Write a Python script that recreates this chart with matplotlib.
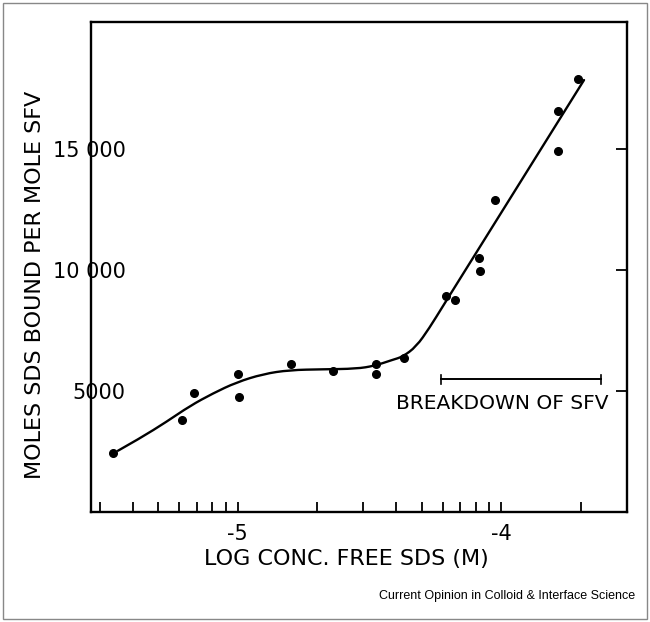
import numpy as np
import matplotlib
matplotlib.use("Agg")
import matplotlib.pyplot as plt
from matplotlib.patches import Rectangle, PathPatch
from matplotlib.path import Path

# Data points (log conc free SDS, moles SDS bound per mole SFV)
log_conc = [-5.473, -5.211, -5.166, -5.000, -4.995, -4.797, -4.638, -4.477, -4.474,
            -4.369, -4.209, -4.175, -4.085, -4.080, -4.022, -3.786, -3.785, -3.708]
bound = [2420, 3790, 4910, 5690, 4770, 6110, 5840, 6110, 5710,
         6380, 8930, 8770, 10490, 9980, 12900, 16570, 14920, 17900]

# Hand-drawn fitted curve (used as smooth-path guide points)
curve_x = [-5.455, -5.371, -5.270, -5.182, -5.094, -5.005, -4.904, -4.803, -4.677,
           -4.550, -4.481, -4.412, -4.374, -4.323, -4.273, -4.222, -3.950, -3.686]
curve_y = [2530, 3045, 3731, 4380, 4904, 5359, 5702, 5868, 5897,
           5920, 6040, 6290, 6418, 6831, 7600, 8500, 13245, 17851]

# Breakdown bar
breakdown_x = [-4.228, -3.622]
breakdown_y = 5484
breakdown_label = "BREAKDOWN OF SFV"

xtick_vals = [-5, -4]
xtick_labels = ["-5", "-4"]
ytick_vals = [5000, 10000, 15000]
ytick_labels = ["5000", "10 000", "15 000"]
xlabel = "LOG CONC. FREE SDS (M)"
ylabel = "MOLES SDS BOUND PER MOLE SFV"
credit = "Current Opinion in Colloid & Interface Science"

plt.rcParams['font.family'] = ['DejaVu Sans']

fig = plt.figure(figsize=(6.5, 6.22), dpi=100)
ax = fig.add_axes([91/650, 1-512/622, (627-91)/650, (512-22)/622])

# smooth path through guide points: quadratic segments between midpoints
verts = [(curve_x[0], curve_y[0])]
codes = [Path.MOVETO]
for i in range(1, len(curve_x) - 1):
    mx = (curve_x[i] + curve_x[i+1]) / 2
    my = (curve_y[i] + curve_y[i+1]) / 2
    verts += [(curve_x[i], curve_y[i]), (mx, my)]
    codes += [Path.CURVE3, Path.CURVE3]
verts.append((curve_x[-1], curve_y[-1]))
codes.append(Path.LINETO)
ax.add_patch(PathPatch(Path(verts, codes), fill=False, edgecolor='black', lw=1.7,
                       capstyle='round', joinstyle='round'))

ax.plot(log_conc, bound, 'o', color='black', ms=5.5)

# breakdown bar with end caps
ax.plot(breakdown_x, [breakdown_y, breakdown_y], color='black', lw=1.4)
ax.plot([breakdown_x[0]]*2, [breakdown_y-180, breakdown_y+180], color='black', lw=1.2)
ax.plot([breakdown_x[1]]*2, [breakdown_y-180, breakdown_y+180], color='black', lw=1.2)
ax.text(np.mean(breakdown_x) - 0.07, breakdown_y - 1000, breakdown_label,
        ha='center', va='center', fontsize=14.5)

ax.set_xlim(-5.557, np.log10(3e-4))
ax.set_ylim(0, 20250)

ax.set_xticks(xtick_vals, xtick_labels, fontsize=15)
minor = []
for dec in [-6, -5, -4]:
    for k in range(2, 10):
        v = dec + np.log10(k)
        if -5.557 < v < np.log10(3e-4):
            minor.append(v)
ax.set_xticks(minor, minor=True)
ax.tick_params(axis='x', which='both', direction='in', length=7, width=1.3, top=False, pad=9)

ax.set_yticks(ytick_vals, ytick_labels, fontsize=15)
ax.tick_params(axis='y', which='major', direction='in', left=False, right=True,
               length=8, width=1.3, labelleft=True, pad=-25)

for s in ax.spines.values():
    s.set_linewidth(1.7)

fig.text(346/650, 1-559/622, xlabel, ha='center', va='center', fontsize=16)
fig.text(35/650, 1-285/622, ylabel, ha='center', va='center', rotation=90, fontsize=16)
fig.text(635/650, 1-596/622, credit, ha='right', va='center', fontsize=9,
         family='Liberation Sans')

fig.patches.append(Rectangle((3/650, 3/622), 644/650, 616/622, transform=fig.transFigure,
                             fill=False, edgecolor='#888888', lw=1.0))

fig.savefig("out.png", dpi=100)
